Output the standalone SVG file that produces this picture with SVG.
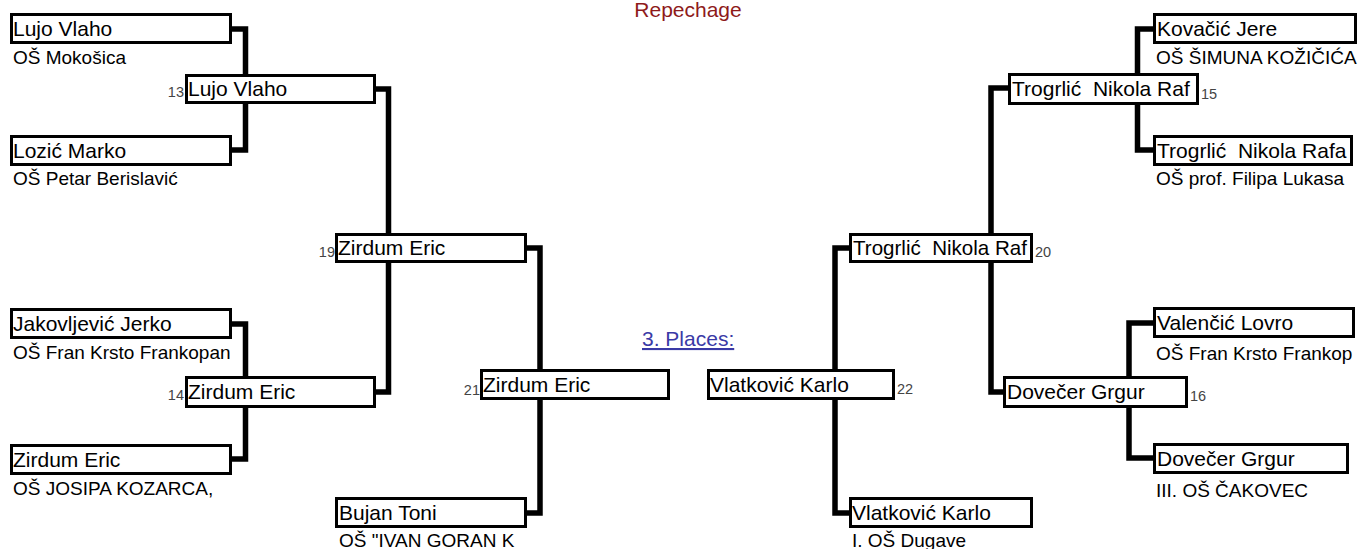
<svg xmlns="http://www.w3.org/2000/svg" width="1358" height="549" viewBox="0 0 1358 549">
<style>
.bg{fill:#fff}
.box{fill:#fff;stroke:#000;stroke-width:3}
.nm{font-family:"Liberation Sans",Arial,sans-serif;font-size:21px;fill:#000;white-space:pre}
.sc{font-family:"Liberation Sans",Arial,sans-serif;font-size:19px;fill:#000}
.no{font-family:"Liberation Sans",Arial,sans-serif;font-size:14.5px;fill:#444}
.ln{fill:none;stroke:#000;stroke-width:5.5}
.ttl{font-family:"Liberation Sans",Arial,sans-serif;font-size:21px;fill:#8e1a1a}
.lnk{font-family:"Liberation Sans",Arial,sans-serif;font-size:21px;fill:#3a3aa6;text-decoration:underline}
</style>
<rect class="bg" x="0" y="0" width="1358" height="549"/>
<text class="ttl" x="688" y="17" text-anchor="middle">Repechage</text>
<text class="lnk" x="642" y="346">3. Places:</text>
<g id="connectors">
<path class="ln" d="M232,29 H245.5 V150 H232"/>
<path class="ln" d="M376,89 H388.5 V392 H376"/>
<path class="ln" d="M232,324 H245.5 V459 H232"/>
<path class="ln" d="M527,248 H540 V513 H527"/>
<path class="ln" d="M849,248 H835 V513 H849"/>
<path class="ln" d="M1153,29 H1137.5 V150 H1153"/>
<path class="ln" d="M1008,88 H991 V392 H1003"/>
<path class="ln" d="M1153,323 H1129 V458 H1153"/>
</g>
<g id="n-lujo1"><rect class="box" x="11.5" y="14.5" width="219" height="28"/><text class="nm" x="13" y="36">Lujo Vlaho</text><text class="sc" x="13" y="64">OŠ Mokošica</text></g>
<g id="n-lozic"><rect class="box" x="11.5" y="136.5" width="219" height="28"/><text class="nm" x="13" y="158">Lozić Marko</text><text class="sc" x="13" y="185">OŠ Petar Berislavić</text></g>
<g id="n-jakov"><rect class="box" x="11.5" y="309.5" width="219" height="28"/><text class="nm" x="13" y="331">Jakovljević Jerko</text><text class="sc" x="13" y="359">OŠ Fran Krsto Frankopan</text></g>
<g id="n-zirdum1"><rect class="box" x="11.5" y="445.5" width="219" height="28"/><text class="nm" x="13" y="467">Zirdum Eric</text><text class="sc" x="13" y="495">OŠ JOSIPA KOZARCA,</text></g>
<g id="n-13"><rect class="box" x="186.5" y="75.5" width="188" height="27"/><text class="no" x="184" y="97" text-anchor="end">13</text><text class="nm" x="188" y="96">Lujo Vlaho</text></g>
<g id="n-14"><rect class="box" x="186.5" y="377.5" width="188" height="29"/><text class="no" x="184" y="400" text-anchor="end">14</text><text class="nm" x="188" y="399">Zirdum Eric</text></g>
<g id="n-19"><rect class="box" x="336.5" y="234.5" width="189" height="27"/><text class="no" x="335" y="257" text-anchor="end">19</text><text class="nm" x="338" y="255">Zirdum Eric</text></g>
<g id="n-bujan"><rect class="box" x="336.5" y="498.5" width="189" height="28"/><text class="nm" x="339" y="520">Bujan Toni</text><text class="sc" x="339" y="547">OŠ "IVAN GORAN K</text></g>
<g id="n-21"><rect class="box" x="481.5" y="370.5" width="187" height="28"/><text class="no" x="480" y="395" text-anchor="end">21</text><text class="nm" x="483" y="392">Zirdum Eric</text></g>
<g id="n-22"><rect class="box" x="708.5" y="370.5" width="185" height="28"/><text class="no" x="897" y="394">22</text><text class="nm" x="710" y="392">Vlatković Karlo</text></g>
<g id="n-20"><rect class="box" x="850.5" y="234.5" width="181" height="27"/><text class="no" x="1035" y="257">20</text><text class="nm" x="853" y="255" textLength="174" lengthAdjust="spacingAndGlyphs">Trogrlić  Nikola Raf</text></g>
<g id="n-vlatk"><rect class="box" x="850.5" y="498.5" width="181" height="28"/><text class="nm" x="852" y="520">Vlatković Karlo</text><text class="sc" x="852" y="547">I. OŠ Dugave</text></g>
<g id="n-15"><rect class="box" x="1009.5" y="74.5" width="188" height="29"/><text class="no" x="1201" y="99">15</text><text class="nm" x="1012" y="96">Trogrlić  Nikola Raf</text></g>
<g id="n-16"><rect class="box" x="1004.5" y="377.5" width="182" height="29"/><text class="no" x="1190" y="401">16</text><text class="nm" x="1007" y="399">Dovečer Grgur</text></g>
<g id="n-kovacic"><rect class="box" x="1154.5" y="14.5" width="201" height="28"/><text class="nm" x="1157" y="36">Kovačić Jere</text><text class="sc" x="1156" y="64">OŠ ŠIMUNA KOŽIČIĆA</text></g>
<g id="n-trogrlic"><rect class="box" x="1154.5" y="136.5" width="197" height="28"/><text class="nm" x="1157" y="158">Trogrlić  Nikola Rafa</text><text class="sc" x="1156" y="185">OŠ prof. Filipa Lukasa</text></g>
<g id="n-valencic"><rect class="box" x="1154.5" y="308.5" width="199" height="28"/><text class="nm" x="1157" y="330">Valenčić Lovro</text><text class="sc" x="1156" y="360">OŠ Fran Krsto Frankop</text></g>
<g id="n-dovecer"><rect class="box" x="1154.5" y="444.5" width="193" height="28"/><text class="nm" x="1157" y="466">Dovečer Grgur</text><text class="sc" x="1156" y="497">III. OŠ ČAKOVEC</text></g>
</svg>
